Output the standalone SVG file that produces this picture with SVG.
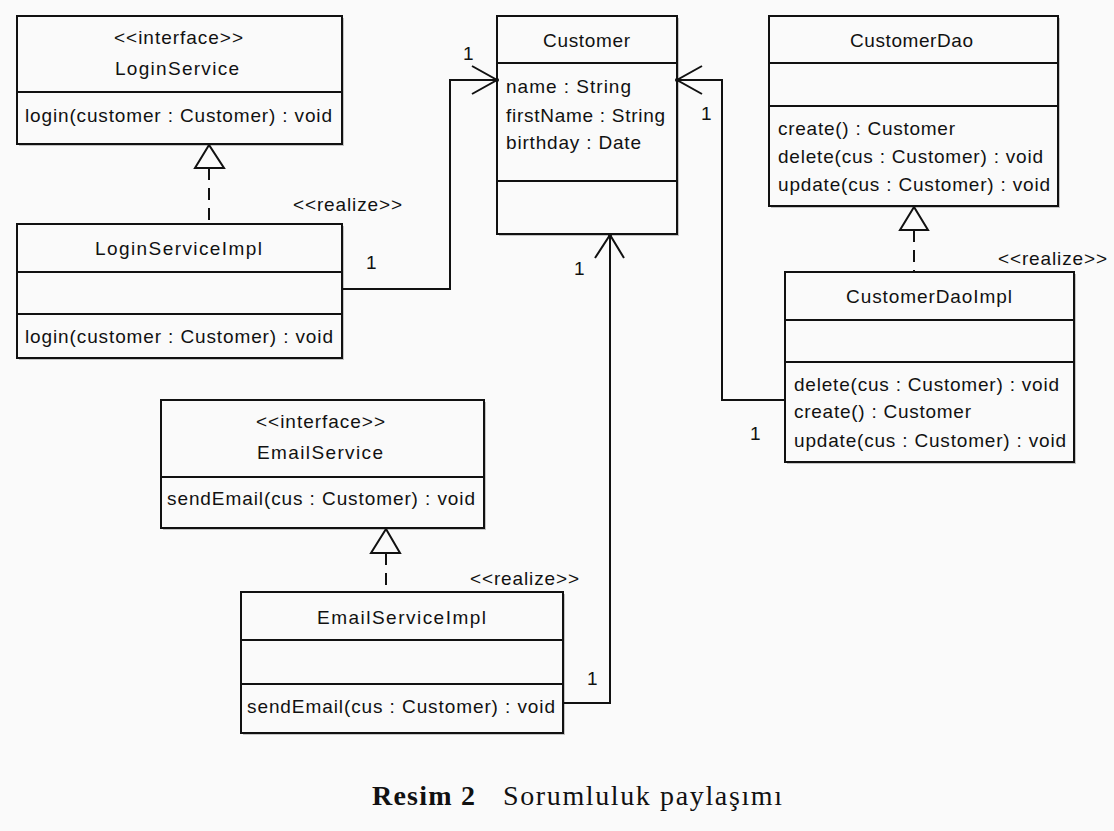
<svg xmlns="http://www.w3.org/2000/svg" width="1114" height="831" viewBox="0 0 1114 831">
<style>
.bg{fill:#fafafa}
.sh{fill:#c4c4c4}
.box{fill:#fafafa;stroke:#111;stroke-width:2}
.sep{stroke:#111;stroke-width:2}
.t{font-family:"Liberation Sans",Arial,sans-serif;font-size:19px;fill:#111}
.ln{fill:none;stroke:#111;stroke-width:2}
.dash{fill:none;stroke:#111;stroke-width:2;stroke-dasharray:12,8}
.tri{fill:#fafafa;stroke:#111;stroke-width:2;stroke-linejoin:miter}
.cap{font-family:"Liberation Serif","Times New Roman",serif;font-size:28px;fill:#111}
</style>
<rect class="bg" x="0" y="0" width="1114" height="831"/>

<g id="LoginService">
<rect class="sh" x="19" y="18" width="325" height="128"/>
<rect class="box" x="17" y="16" width="325" height="128"/>
<line class="sep" x1="17" y1="92" x2="342" y2="92"/>
<text class="t" x="114" y="44" textLength="129" lengthAdjust="spacing">&lt;&lt;interface&gt;&gt;</text>
<text class="t" x="115" y="75" textLength="124" lengthAdjust="spacing">LoginService</text>
<text class="t" x="25" y="122" textLength="307" lengthAdjust="spacing">login(customer : Customer) : void</text>
</g>

<g id="LoginServiceImpl">
<rect class="sh" x="19" y="226" width="325" height="134"/>
<rect class="box" x="17" y="224" width="325" height="134"/>
<line class="sep" x1="17" y1="272" x2="342" y2="272"/>
<line class="sep" x1="17" y1="314" x2="342" y2="314"/>
<text class="t" x="95" y="255" textLength="167" lengthAdjust="spacing">LoginServiceImpl</text>
<text class="t" x="25" y="343" textLength="308" lengthAdjust="spacing">login(customer : Customer) : void</text>
</g>

<g id="Customer">
<rect class="sh" x="499" y="18" width="180" height="218"/>
<rect class="box" x="497" y="16" width="180" height="218"/>
<line class="sep" x1="497" y1="63" x2="677" y2="63"/>
<line class="sep" x1="497" y1="181" x2="677" y2="181"/>
<text class="t" x="543" y="47" textLength="87" lengthAdjust="spacing">Customer</text>
<text class="t" x="506" y="93" textLength="125" lengthAdjust="spacing">name : String</text>
<text class="t" x="506" y="122" textLength="159" lengthAdjust="spacing">firstName : String</text>
<text class="t" x="506" y="149" textLength="135" lengthAdjust="spacing">birthday : Date</text>
</g>

<g id="CustomerDao">
<rect class="sh" x="771" y="18" width="289" height="190"/>
<rect class="box" x="769" y="16" width="289" height="190"/>
<line class="sep" x1="769" y1="63" x2="1058" y2="63"/>
<line class="sep" x1="769" y1="106" x2="1058" y2="106"/>
<text class="t" x="850" y="47" textLength="123" lengthAdjust="spacing">CustomerDao</text>
<text class="t" x="778" y="135" textLength="177" lengthAdjust="spacing">create() : Customer</text>
<text class="t" x="778" y="163" textLength="265" lengthAdjust="spacing">delete(cus : Customer) : void</text>
<text class="t" x="778" y="191" textLength="272" lengthAdjust="spacing">update(cus : Customer) : void</text>
</g>

<g id="CustomerDaoImpl">
<rect class="sh" x="787" y="274" width="289" height="190"/>
<rect class="box" x="785" y="272" width="289" height="190"/>
<line class="sep" x1="785" y1="320" x2="1074" y2="320"/>
<line class="sep" x1="785" y1="362" x2="1074" y2="362"/>
<text class="t" x="846" y="303" textLength="166" lengthAdjust="spacing">CustomerDaoImpl</text>
<text class="t" x="794" y="391" textLength="265" lengthAdjust="spacing">delete(cus : Customer) : void</text>
<text class="t" x="794" y="418" textLength="177" lengthAdjust="spacing">create() : Customer</text>
<text class="t" x="794" y="447" textLength="272" lengthAdjust="spacing">update(cus : Customer) : void</text>
</g>

<g id="EmailService">
<rect class="sh" x="163" y="402" width="323" height="128"/>
<rect class="box" x="161" y="400" width="323" height="128"/>
<line class="sep" x1="161" y1="477" x2="484" y2="477"/>
<text class="t" x="256" y="428" textLength="129" lengthAdjust="spacing">&lt;&lt;interface&gt;&gt;</text>
<text class="t" x="257" y="459" textLength="126" lengthAdjust="spacing">EmailService</text>
<text class="t" x="167" y="505" textLength="308" lengthAdjust="spacing">sendEmail(cus : Customer) : void</text>
</g>

<g id="EmailServiceImpl">
<rect class="sh" x="243" y="594" width="322" height="141"/>
<rect class="box" x="241" y="592" width="322" height="141"/>
<line class="sep" x1="241" y1="640" x2="563" y2="640"/>
<line class="sep" x1="241" y1="684" x2="563" y2="684"/>
<text class="t" x="317" y="624" textLength="169" lengthAdjust="spacing">EmailServiceImpl</text>
<text class="t" x="247" y="713" textLength="308" lengthAdjust="spacing">sendEmail(cus : Customer) : void</text>
</g>

<g id="connectors">
<line class="dash" x1="209" y1="168" x2="209" y2="224"/>
<polygon class="tri" points="209,145 195,168 224,168"/>
<text class="t" x="293" y="211" textLength="109" lengthAdjust="spacing">&lt;&lt;realize&gt;&gt;</text>
<line class="dash" x1="914" y1="230" x2="914" y2="272"/>
<polygon class="tri" points="914,207 900,230 928,230"/>
<text class="t" x="998" y="265" textLength="109" lengthAdjust="spacing">&lt;&lt;realize&gt;&gt;</text>
<line class="dash" x1="386" y1="553" x2="386" y2="592"/>
<polygon class="tri" points="386,529 371,553 400,553"/>
<text class="t" x="470" y="585" textLength="109" lengthAdjust="spacing">&lt;&lt;realize&gt;&gt;</text>

<polyline class="ln" points="342,289 450,289 450,80 497,80"/>
<polyline class="ln" points="472,66 497,80 472,94"/>
<circle cx="497" cy="80" r="2" fill="#111"/>
<text class="t" x="366" y="269">1</text>
<text class="t" x="463" y="60">1</text>
<polyline class="ln" points="785,400 722,400 722,80 677,80"/>
<polyline class="ln" points="702,66 677,80 702,94"/>
<circle cx="677" cy="80" r="2" fill="#111"/>
<text class="t" x="701" y="120">1</text>
<text class="t" x="750" y="440">1</text>
<polyline class="ln" points="563,703 610,703 610,235"/>
<polyline class="ln" points="595,258 610,235 624,258"/>
<circle cx="610" cy="235" r="2" fill="#111"/>
<text class="t" x="574" y="275">1</text>
<text class="t" x="587" y="685">1</text>
</g>

<g id="caption">
<text class="cap" x="372" y="805" font-weight="bold" textLength="103" lengthAdjust="spacing">Resim 2</text>
<text class="cap" x="503" y="805" textLength="279" lengthAdjust="spacing">Sorumluluk paylaşımı</text>
</g>
</svg>
